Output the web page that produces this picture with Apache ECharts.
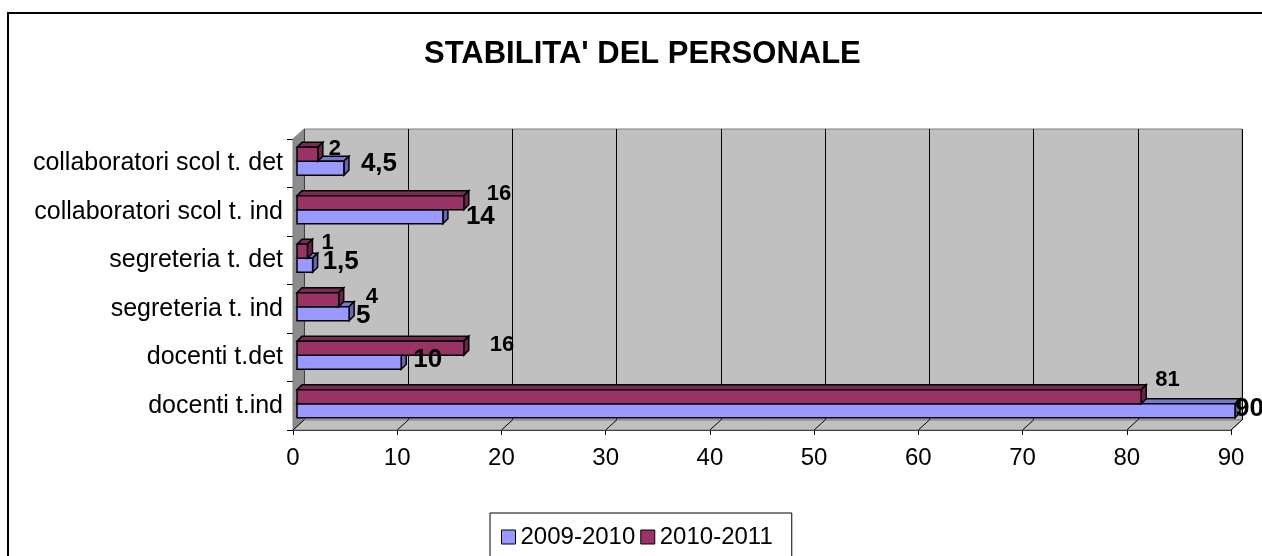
<!DOCTYPE html>
<html><head><meta charset="utf-8">
<script src="https://cdn.jsdelivr.net/npm/echarts@6/dist/echarts.min.js"></script>
<style>html,body{margin:0;padding:0;background:#fff}#c{width:1262px;height:556px}</style>
</head><body><div id="c"></div>
<script>
// ---- data ----
const categories = ['docenti t.ind', 'docenti t.det', 'segreteria t. ind', 'segreteria t. det', 'collaboratori scol t. ind', 'collaboratori scol t. det'];
const values2009 = [90, 10, 5, 1.5, 14, 4.5];
const values2010 = [81, 16, 4, 1, 16, 2];
const seriesNames = ['2009-2010', '2010-2011'];
const xTicks = [0, 10, 20, 30, 40, 50, 60, 70, 80, 90];
const titleText = "STABILITA' DEL PERSONALE";

// ---- styling ----
const FONT = '"Liberation Sans", Arial, sans-serif';
const DEPTH = [11, -10];
const BAR_DEPTH = [5, -5];
const labelNudge2009 = { gap: [-5, 7, 2, 5, 18, 12], dy: [-2, -2, 2, -3, 0, -4] };
const labelNudge2010 = { gap: [9, 21, 22, 9, 18, 6], dy: [-17, -3, -3, -8, -9, -5] };

function fmt(v) { return String(v).replace('.', ','); }

function barGeom(params, api, slot) {
  const v = api.value(0), ci = api.value(1);
  const s = api.coord([0, ci]);
  const e = api.coord([v, ci]);
  const band = api.size([0, 1])[1];
  const h = Math.round(band * 0.28);
  const x0 = s[0] + 4, x1 = e[0] + 4;
  const mid = s[1] - 2;
  const yT = slot === 0 ? mid : mid - h;
  return { v: v, x0: x0, x1: x1, yT: yT, yB: yT + h, h: h };
}

function barRenderer(slot, face, top, side) {
  return function (params, api) {
    const g = barGeom(params, api, slot);
    const dx = BAR_DEPTH[0], dy = BAR_DEPTH[1];
    const ln = { stroke: '#000', lineWidth: 1.5 };
    return {
      type: 'group', children: [
        { type: 'polygon', shape: { points: [[g.x0, g.yT], [g.x0 + dx, g.yT + dy], [g.x1 + dx, g.yT + dy], [g.x1, g.yT]] }, style: Object.assign({ fill: top }, ln) },
        { type: 'polygon', shape: { points: [[g.x1, g.yT], [g.x1 + dx, g.yT + dy], [g.x1 + dx, g.yB + dy], [g.x1, g.yB]] }, style: Object.assign({ fill: side }, ln) },
        { type: 'rect', shape: { x: g.x0, y: g.yT, width: g.x1 - g.x0, height: g.h }, style: Object.assign({ fill: face }, ln) }
      ]
    };
  };
}

function labelRenderer(slot, labelFont, nudge) {
  return function (params, api) {
    const g = barGeom(params, api, slot);
    const i = params.dataIndex;
    return {
      type: 'text',
      style: { text: fmt(g.v), x: g.x1 + BAR_DEPTH[0] + nudge.gap[i], y: (g.yT + g.yB) / 2 + nudge.dy[i], fill: '#000', font: labelFont, align: 'left', verticalAlign: 'middle' }
    };
  };
}

function wallsRenderer(params, api) {
  const cs = params.coordSys;
  const x = cs.x, y = cs.y, w = cs.width, h = cs.height;
  const D = DEPTH[0], E = DEPTH[1];
  const children = [
    { type: 'polygon', shape: { points: [[x, y], [x + D, y + E], [x + D, y + h + E], [x, y + h]] }, style: { fill: '#8C8C8C', stroke: '#808080', lineWidth: 1 } },
    { type: 'polygon', shape: { points: [[x, y + h], [x + D, y + h + E], [x + w + D, y + h + E], [x + w, y + h]] }, style: { fill: '#C0C0C0', stroke: '#808080', lineWidth: 1 } }
  ];
  xTicks.forEach(function (t) {
    const px = api.coord([t, 0])[0];
    children.push({ type: 'line', shape: { x1: px, y1: y + h, x2: px + D, y2: y + h + E }, style: { stroke: '#000', lineWidth: 1 } });
  });
  return { type: 'group', children: children };
}

const chart = echarts.init(document.getElementById('c'), null, { renderer: 'canvas' });
chart.setOption({
  animation: false,
  backgroundColor: '#fff',
  title: {
    text: titleText, left: 424, top: 39, padding: 0,
    textStyle: { fontSize: 31, fontWeight: 'bold', fontFamily: FONT, color: '#000', lineHeight: 31 }
  },
  legend: {
    data: seriesNames, left: 490, top: 513, orient: 'horizontal',
    itemWidth: 14, itemHeight: 14, itemGap: 5, icon: 'rect',
    padding: [12, 19, 20, 11], borderColor: '#000', borderWidth: 1,
    textStyle: { fontSize: 24, fontFamily: FONT, color: '#000' },
    itemStyle: { borderColor: '#000', borderWidth: 1 }
  },
  graphic: [{
    type: 'rect', silent: true, z: 100,
    shape: { x: 8, y: 13, width: 1300, height: 600 },
    style: { fill: 'none', stroke: '#000', lineWidth: 2 }
  }],
  grid: [
    { left: 293, top: 139, width: 938, height: 291, show: false },
    { left: 304, top: 129, width: 938, height: 291, show: true, backgroundColor: '#C0C0C0', borderColor: '#808080', borderWidth: 1 }
  ],
  xAxis: [
    {
      type: 'value', gridIndex: 0, min: 0, max: 90, interval: 10,
      axisLine: { show: true, onZero: false, lineStyle: { color: '#000', width: 1 } },
      axisTick: { show: true, length: 5, lineStyle: { color: '#000' } },
      axisLabel: { fontSize: 24, color: '#000', fontFamily: FONT, margin: 16 },
      splitLine: { show: false }
    },
    {
      type: 'value', gridIndex: 1, min: 0, max: 90, interval: 10,
      axisLine: { show: false }, axisTick: { show: false }, axisLabel: { show: false },
      splitLine: { show: true, lineStyle: { color: '#000', width: 1 } }
    }
  ],
  yAxis: [
    {
      type: 'category', gridIndex: 0, data: categories,
      axisLine: { show: true, onZero: false, lineStyle: { color: '#000', width: 1 } },
      axisTick: { show: true, length: 6, lineStyle: { color: '#000' } },
      axisLabel: { fontSize: 25, color: '#000', fontFamily: FONT, margin: 10 }
    },
    { type: 'category', gridIndex: 1, data: categories, show: false }
  ],
  series: [
    {
      type: 'custom', name: 'walls', xAxisIndex: 0, yAxisIndex: 0, z: 1, silent: true, clip: false,
      data: [[0, 0]], renderItem: wallsRenderer
    },
    {
      type: 'custom', name: seriesNames[0], xAxisIndex: 0, yAxisIndex: 0, z: 3, clip: false,
      itemStyle: { color: '#9999FF', borderColor: '#000', borderWidth: 1 },
      encode: { x: 0, y: 1 },
      data: values2009.map(function (v, i) { return [v, i]; }),
      renderItem: barRenderer(0, '#9999FF', '#7777CC', '#6666B3')
    },
    {
      type: 'custom', name: seriesNames[1], xAxisIndex: 0, yAxisIndex: 0, z: 4, clip: false,
      itemStyle: { color: '#993366', borderColor: '#000', borderWidth: 1 },
      encode: { x: 0, y: 1 },
      data: values2010.map(function (v, i) { return [v, i]; }),
      renderItem: barRenderer(1, '#993366', '#7A2952', '#6B2447')
    },
    {
      type: 'custom', name: 'labels2009', xAxisIndex: 0, yAxisIndex: 0, z: 10, clip: false, silent: true,
      encode: { x: 0, y: 1 },
      data: values2009.map(function (v, i) { return [v, i]; }),
      renderItem: labelRenderer(0, 'bold 26px ' + FONT, labelNudge2009)
    },
    {
      type: 'custom', name: 'labels2010', xAxisIndex: 0, yAxisIndex: 0, z: 10, clip: false, silent: true,
      encode: { x: 0, y: 1 },
      data: values2010.map(function (v, i) { return [v, i]; }),
      renderItem: labelRenderer(1, 'bold 22px ' + FONT, labelNudge2010)
    }
  ]
});
</script></body></html>
